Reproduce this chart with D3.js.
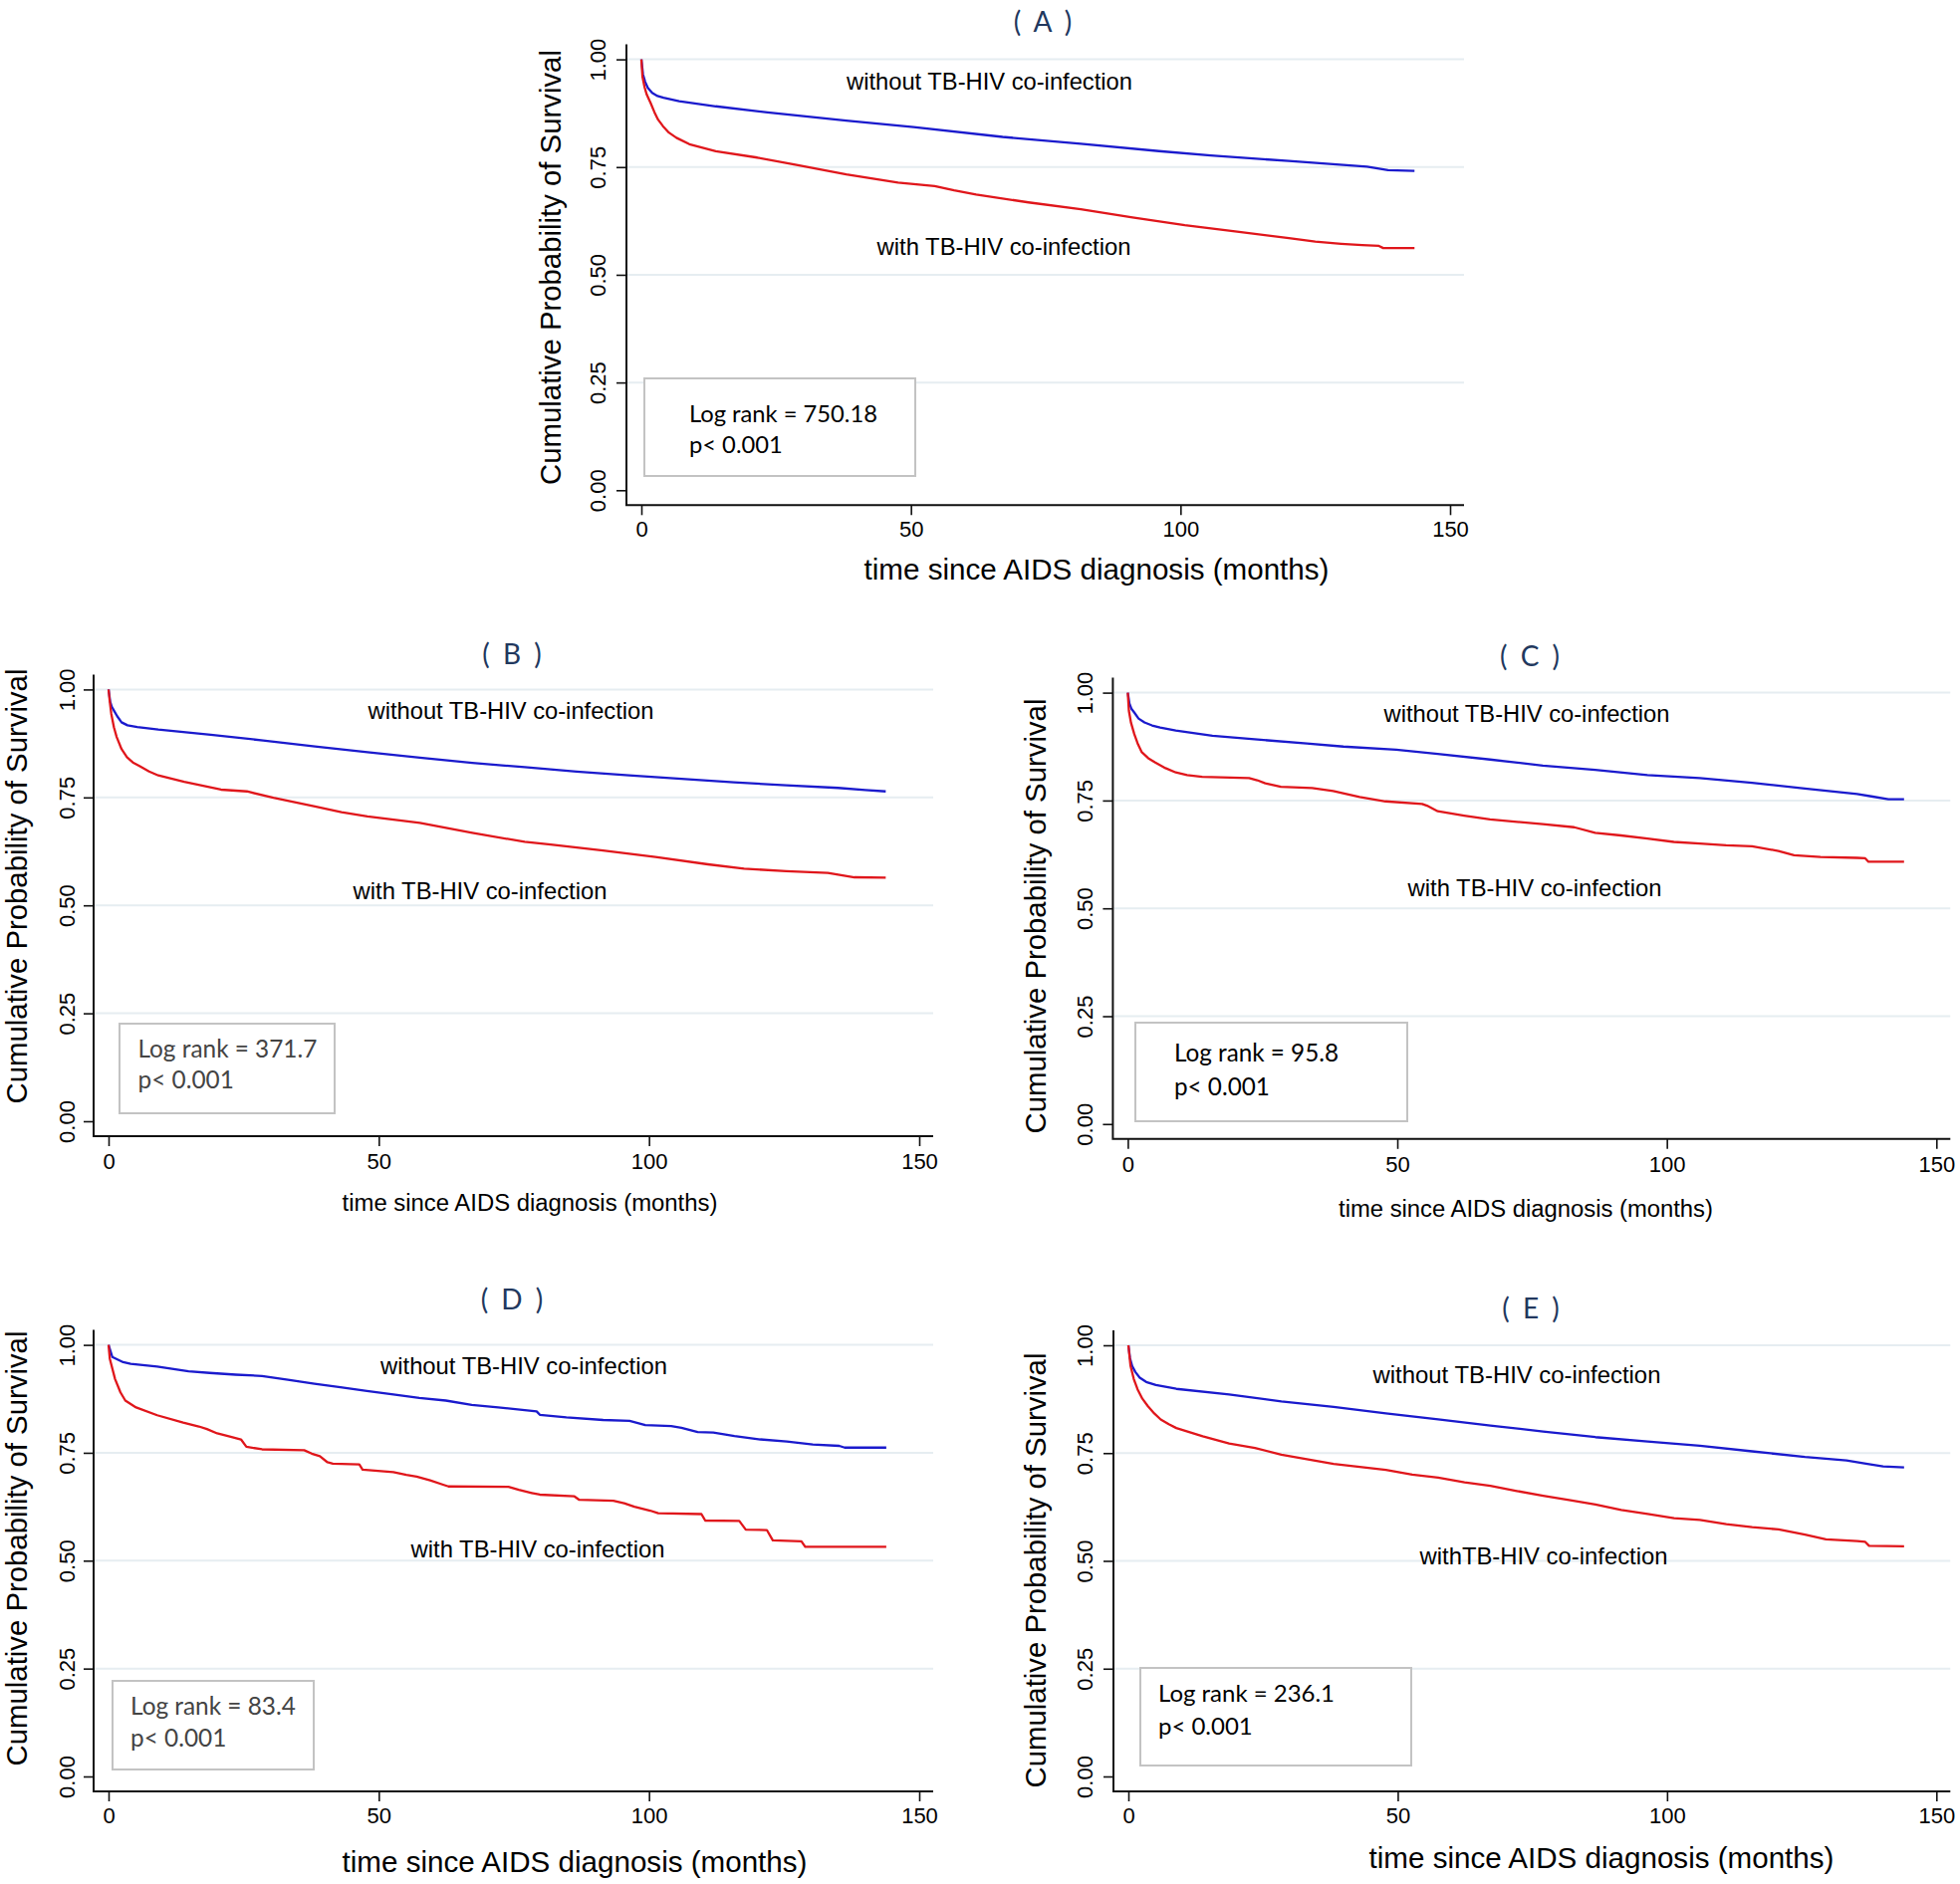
<!DOCTYPE html>
<html><head><meta charset="utf-8">
<script src="https://cdn.jsdelivr.net/npm/d3@7"></script>
<style>body{margin:0;background:#fff}svg{display:block}</style>
</head><body>
<svg id="chart" width="1968" height="1892"></svg>
<script>
// ---------------- DATA ----------------
const panelIds = ['A', 'B', 'C', 'D', 'E'];
const xTicks = [0, 50, 100, 150];
const yTicks = [0, 0.25, 0.5, 0.75, 1];
const yGrid = [0.25, 0.5, 0.75, 1];
const xTitleText = 'time since AIDS diagnosis (months)';
const yTitleText = 'Cumulative Probability of Survival';
const withoutLabels = ['without TB-HIV co-infection', 'without TB-HIV co-infection', 'without TB-HIV co-infection', 'without TB-HIV co-infection', 'without TB-HIV co-infection'];
const withLabels = ['with TB-HIV co-infection', 'with TB-HIV co-infection', 'with TB-HIV co-infection', 'with TB-HIV co-infection', 'withTB-HIV co-infection'];
const logRankValues = ['750.18', '371.7', '95.8', '83.4', '236.1'];
const pValueText = 'p< 0.001';

// [months, survival probability]
const A_without = [[0,1],[0.3,0.965],[0.7,0.948],[1.2,0.934],[2,0.922],[3,0.915],[4.1,0.911],[7,0.903],[13.8,0.891],[23.4,0.877],[38,0.858],[50.5,0.843],[67,0.820],[81.5,0.804],[96,0.787],[105.6,0.777],[120.1,0.764],[134.6,0.751],[138.5,0.743],[143.4,0.741]];
const A_with = [[0,1],[0.2,0.96],[0.6,0.935],[1,0.918],[1.7,0.899],[2.4,0.878],[3.1,0.860],[4,0.845],[5.1,0.830],[6.5,0.818],[8.9,0.803],[13.8,0.787],[21.5,0.772],[28.3,0.756],[38,0.733],[47.6,0.714],[54.4,0.706],[58,0.696],[62.1,0.686],[71.8,0.668],[81.5,0.652],[91.1,0.633],[100.8,0.615],[110.5,0.600],[120.1,0.585],[125,0.577],[129.8,0.572],[133.7,0.569],[136.8,0.567],[137.6,0.562],[143.4,0.562]];

const B_without = [[0,1],[0.3,0.972],[0.6,0.96],[1,0.951],[1.6,0.938],[2.4,0.924],[3.5,0.917],[5.3,0.913],[9.2,0.907],[18.9,0.895],[28.6,0.882],[38.2,0.868],[47.9,0.855],[57.6,0.842],[67.3,0.830],[77,0.820],[86.6,0.810],[96.3,0.801],[106,0.793],[115.7,0.785],[125.4,0.778],[135,0.772],[140,0.767],[143.8,0.764]];
const B_with = [[0,1],[0.2,0.975],[0.5,0.944],[1,0.912],[1.5,0.890],[2.4,0.862],[3.4,0.843],[4.5,0.831],[5.8,0.822],[7.5,0.81],[9.2,0.801],[14,0.786],[20.8,0.768],[25.6,0.764],[30.5,0.749],[38.2,0.729],[43.1,0.716],[47.9,0.706],[57.6,0.691],[67.3,0.668],[77,0.647],[81.8,0.641],[91.5,0.627],[101.2,0.612],[110.9,0.595],[117.6,0.585],[125.4,0.579],[133.1,0.575],[138,0.565],[143.8,0.564]];

const C_without = [[0,1],[0.3,0.975],[0.7,0.962],[1.2,0.954],[2,0.94],[3.1,0.931],[4.5,0.924],[6,0.919],[8.9,0.912],[15.7,0.900],[23.5,0.892],[33.2,0.882],[40,0.875],[49.8,0.868],[57.5,0.858],[67.2,0.845],[77,0.831],[86.7,0.821],[96.4,0.809],[106.1,0.802],[115.8,0.791],[125.6,0.778],[135.3,0.765],[138.2,0.759],[141.1,0.753],[144,0.753]];
const C_with = [[0,1],[0.2,0.958],[0.6,0.93],[1.2,0.904],[1.9,0.88],[2.6,0.862],[3.8,0.848],[5.1,0.838],[7,0.825],[8.9,0.815],[11,0.809],[13.8,0.805],[22.5,0.802],[24,0.797],[25.5,0.790],[28.4,0.782],[34.2,0.779],[38.1,0.772],[43,0.758],[47.8,0.748],[54.6,0.742],[55.5,0.738],[57.5,0.725],[62.4,0.715],[67.2,0.706],[77,0.695],[82.8,0.688],[86.7,0.675],[91.5,0.669],[96.4,0.662],[101.3,0.654],[106.1,0.650],[111,0.646],[115.8,0.644],[120.7,0.633],[123.6,0.623],[128.5,0.619],[135.3,0.617],[136.8,0.616],[137.4,0.608],[144,0.608]];

const D_without = [[0,1],[0.7,0.972],[2.7,0.960],[4.1,0.956],[9,0.950],[14.8,0.939],[18.7,0.935],[23.5,0.931],[28.4,0.928],[33.2,0.919],[38.1,0.910],[42.9,0.902],[47.8,0.893],[52.7,0.885],[57.5,0.877],[62.4,0.871],[67.2,0.861],[72.1,0.855],[77,0.849],[79.2,0.846],[79.8,0.838],[84.7,0.832],[91.5,0.826],[96.4,0.824],[99.3,0.814],[104.1,0.812],[106,0.808],[109,0.798],[111.9,0.797],[115.8,0.789],[120.6,0.781],[125.5,0.776],[130.3,0.769],[135.2,0.766],[136.2,0.762],[143.9,0.762]];
const D_with = [[0,1],[0.23,0.968],[1.2,0.921],[2.2,0.890],[3.1,0.871],[5.1,0.855],[9,0.837],[13.8,0.820],[16.7,0.811],[18.2,0.805],[20.1,0.795],[22.6,0.787],[24.5,0.781],[25.5,0.764],[28.4,0.758],[36.2,0.756],[37.6,0.748],[39.1,0.742],[40.5,0.728],[41.5,0.725],[46.4,0.723],[47,0.711],[52.7,0.705],[55.1,0.699],[57,0.695],[59.5,0.686],[61.9,0.676],[62.9,0.672],[74,0.671],[75.9,0.664],[78.3,0.657],[79.8,0.653],[86.2,0.649],[87.1,0.641],[93.4,0.639],[95.4,0.633],[97.3,0.625],[100.2,0.616],[101.7,0.610],[109.7,0.608],[110.4,0.593],[116.7,0.592],[117.9,0.572],[121.8,0.571],[122.9,0.547],[128.2,0.545],[128.9,0.532],[143.9,0.532]];

const E_without = [[0,1],[0.3,0.97],[0.7,0.952],[1.3,0.938],[2.1,0.925],[3.3,0.915],[5.1,0.908],[8.9,0.899],[18.7,0.886],[28.4,0.870],[38.1,0.857],[47.8,0.842],[57.5,0.828],[67.2,0.814],[77,0.800],[86.7,0.787],[96.4,0.777],[106.1,0.767],[115.8,0.754],[125.6,0.741],[133.3,0.733],[137.2,0.725],[140.1,0.719],[144,0.717]];
const E_with = [[0,1],[0.4,0.952],[1,0.922],[1.7,0.898],[2.6,0.876],[3.6,0.859],[4.8,0.842],[6,0.828],[7.5,0.817],[8.9,0.808],[13.8,0.789],[18.7,0.772],[23.5,0.762],[28.4,0.746],[38.1,0.725],[47.8,0.711],[52.7,0.700],[57.5,0.693],[62.4,0.682],[67.2,0.674],[72.1,0.662],[77,0.651],[81.8,0.641],[86.7,0.631],[91.5,0.618],[96.4,0.609],[101.3,0.599],[106.1,0.595],[111,0.585],[115.8,0.578],[120.7,0.573],[125.6,0.561],[129.5,0.550],[135.3,0.546],[136.8,0.544],[137.5,0.535],[144,0.534]];

const seriesWithout = [A_without, B_without, C_without, D_without, E_without];
const seriesWith = [A_with, B_with, C_with, D_with, E_with];

// ---------------- LAYOUT (pixels) ----------------
const layout = {
  A: {x0:644, x1:1456, yTop:59.6, yBot:492.3, title:[1047,32], yTitle:[541.5,268.5], yTickCx:600, xTickBase:539, xTitle:[1101,582,467], labWo:[993.5,90,287], labW:[1008,256,255], box:[647,380,272,98], stat:[692,424,455,189], statFill:'#000'},
  B: {x0:109, x1:923, yTop:692.4, yBot:1126, title:[514,667], yTitle:[3,890], yTickCx:67, xTickBase:1174, xTitle:[532,1216,377], labWo:[513,722,287], labW:[482,903,255], box:[120,1028,216,90], stat:[138.5,1062,1093,180], statFill:'#444'},
  C: {x0:1132.4, x1:1944.3, yTop:695.6, yBot:1128.8, title:[1536,669], yTitle:[1029,920], yTickCx:1089, xTickBase:1177, xTitle:[1532,1222,376], labWo:[1533,725,287], labW:[1541,900,255], box:[1140,1027,273,99], stat:[1179,1066,1100,165], statFill:'#000'},
  D: {x0:109, x1:923, yTop:1350.6, yBot:1784, title:[514,1315], yTitle:[3,1555], yTickCx:67, xTickBase:1831, xTitle:[577,1880,467], labWo:[526,1380,288], labW:[540,1564,255], box:[113,1688,202,89], stat:[131,1722,1754,166], statFill:'#444'},
  E: {x0:1133, x1:1944.3, yTop:1351, yBot:1784, title:[1537,1324], yTitle:[1029,1577], yTickCx:1089, xTickBase:1831, xTitle:[1608,1876,467], labWo:[1523,1389,289], labW:[1550,1571,249], box:[1145,1675,272,98], stat:[1163,1709,1742,177], statFill:'#000'}
};

const SANS = "'Liberation Sans', Arial, sans-serif";
const CAL = "Lato, 'Open Sans', sans-serif";
const BLUE = '#1a1acd', RED = '#e0161b', GRID = '#e6edf1', AXIS = '#111';

const svg = d3.select('#chart');
svg.append('rect').attr('width', 1968).attr('height', 1892).attr('fill', '#fff');

function fit(sel, target) {
  const len = sel.node().getComputedTextLength();
  const fs = parseFloat(sel.attr('font-size'));
  if (len > 0) sel.attr('font-size', (fs * target / len).toFixed(2));
  return parseFloat(sel.attr('font-size'));
}

panelIds.forEach((id, i) => {
  const L = layout[id];
  const x = d3.scaleLinear().domain([0, 150]).range([L.x0, L.x1]);
  const y = d3.scaleLinear().domain([0, 1]).range([L.yBot, L.yTop]);
  const spineX = L.x0 - 15, axisY = L.yBot + 15, spineTop = L.yTop - 15, axisRight = L.x1 + 14;
  const g = svg.append('g').attr('class', 'panel-' + id);

  // gridlines
  g.append('g').selectAll('line').data(yGrid).join('line')
    .attr('x1', spineX + 1).attr('x2', axisRight)
    .attr('y1', d => y(d)).attr('y2', d => y(d))
    .attr('stroke', GRID).attr('stroke-width', 2);

  // legend box
  const [bx, by, bw, bh] = L.box;
  g.append('rect').attr('x', bx).attr('y', by).attr('width', bw).attr('height', bh)
    .attr('fill', '#fff').attr('stroke', '#c3c3c3').attr('stroke-width', 2);
  const st1 = g.append('text').attr('x', L.stat[0]).attr('y', L.stat[1])
    .attr('font-family', CAL).attr('font-size', 24).attr('fill', L.statFill)
    .text('Log rank = ' + logRankValues[i]);
  const sfs = fit(st1, L.stat[3]);
  g.append('text').attr('x', L.stat[0]).attr('y', L.stat[2])
    .attr('font-family', CAL).attr('font-size', sfs).attr('fill', L.statFill)
    .text(pValueText);

  // y axis (ticks via d3 axis)
  const gy = g.append('g').attr('transform', `translate(${spineX},0)`)
    .call(d3.axisLeft(y).tickValues(yTicks).tickSize(10).tickSizeOuter(0).tickFormat(d3.format('.2f')))
    .attr('font-family', SANS).attr('font-size', 22);
  gy.select('.domain').remove();
  gy.selectAll('.tick line').attr('stroke', AXIS).attr('stroke-width', 1.6);
  gy.selectAll('.tick text')
    .attr('x', null).attr('dy', null).attr('y', null)
    .attr('text-anchor', 'middle').attr('dominant-baseline', 'central')
    .attr('fill', '#000')
    .attr('transform', `translate(${L.yTickCx - spineX},0) rotate(-90)`);

  // x axis
  const gx = g.append('g').attr('transform', `translate(0,${axisY})`)
    .call(d3.axisBottom(x).tickValues(xTicks).tickSize(10).tickSizeOuter(0).tickFormat(d3.format('d')))
    .attr('font-family', SANS).attr('font-size', 22);
  gx.select('.domain').remove();
  gx.selectAll('.tick line').attr('stroke', AXIS).attr('stroke-width', 1.6);
  gx.selectAll('.tick text').attr('dy', null).attr('y', L.xTickBase - axisY).attr('fill', '#000');

  // spines
  g.append('path')
    .attr('d', `M${spineX},${spineTop}V${axisY}H${axisRight}`)
    .attr('fill', 'none').attr('stroke', AXIS).attr('stroke-width', 2);

  // curves
  const line = d3.line().x(d => x(d[0])).y(d => y(d[1]));
  g.append('path').datum(seriesWithout[i]).attr('d', line)
    .attr('fill', 'none').attr('stroke', BLUE).attr('stroke-width', 2.3).attr('stroke-linejoin', 'round');
  g.append('path').datum(seriesWith[i]).attr('d', line)
    .attr('fill', 'none').attr('stroke', RED).attr('stroke-width', 2.3).attr('stroke-linejoin', 'round');

  // curve labels
  const lw = g.append('text').attr('x', L.labWo[0]).attr('y', L.labWo[1])
    .attr('text-anchor', 'middle').attr('font-family', SANS).attr('font-size', 23).attr('fill', '#000')
    .text(withoutLabels[i]);
  fit(lw, L.labWo[2]);
  const lr = g.append('text').attr('x', L.labW[0]).attr('y', L.labW[1])
    .attr('text-anchor', 'middle').attr('font-family', SANS).attr('font-size', 23).attr('fill', '#000')
    .text(withLabels[i]);
  fit(lr, L.labW[2]);

  // x title
  const xt = g.append('text').attr('x', L.xTitle[0]).attr('y', L.xTitle[1])
    .attr('text-anchor', 'middle').attr('font-family', SANS).attr('font-size', 26).attr('fill', '#000')
    .text(xTitleText);
  fit(xt, L.xTitle[2]);

  // y title (rotated)
  const yt = g.append('text').attr('text-anchor', 'middle')
    .attr('font-family', SANS).attr('font-size', 28).attr('fill', '#000')
    .text(yTitleText);
  const yfs = fit(yt, 437);
  const baseX = Math.max(L.yTitle[0] + 0.72 * yfs, 0.93 * yfs);
  yt.attr('transform', `translate(${baseX},${L.yTitle[1]}) rotate(-90)`);

  // panel title
  g.append('text').attr('x', L.title[0]).attr('y', L.title[1])
    .attr('text-anchor', 'middle').attr('font-family', CAL).attr('font-size', 28)
    .attr('word-spacing', 6).attr('fill', '#22385e')
    .text('( ' + id + ' )');
});
</script>
</body></html>
